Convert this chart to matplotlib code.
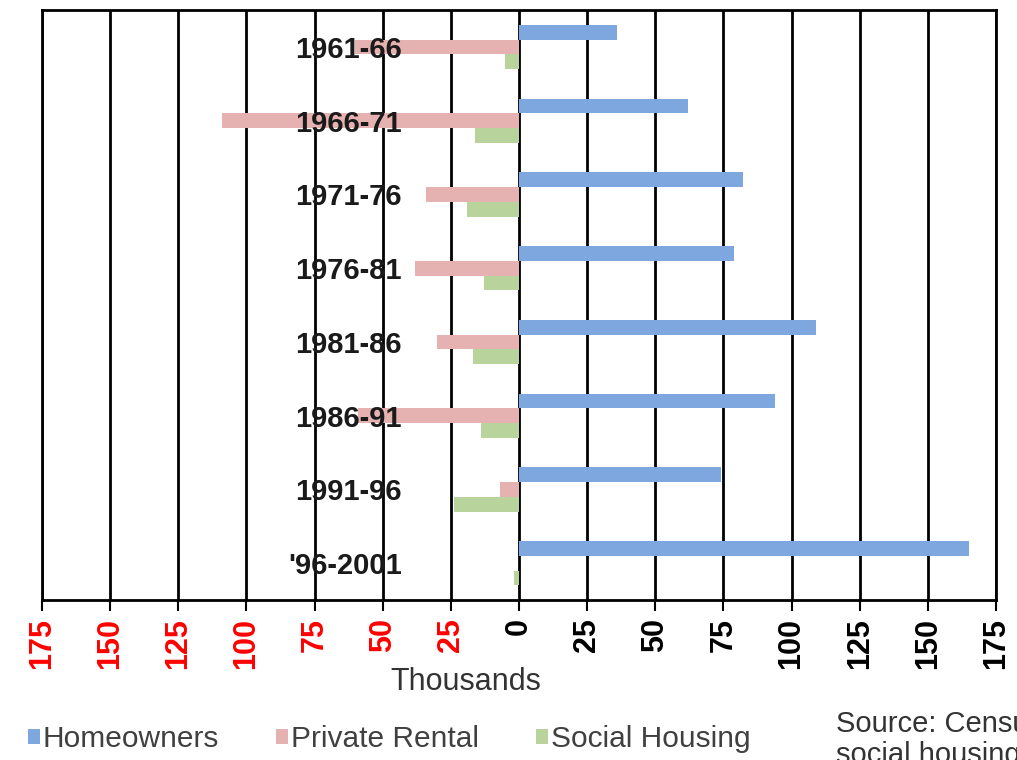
import matplotlib
matplotlib.use("Agg")
import matplotlib.pyplot as plt
import matplotlib.transforms as mtransforms
import numpy as np

plt.rcParams['font.family'] = ['Liberation Sans', 'DejaVu Sans']

periods = ["1961-66", "1966-71", "1971-76", "1976-81", "1981-86", "1986-91", "1991-96", "'96-2001"]
homeowners = [36, 62, 82, 79, 109, 94, 74, 165]
private_rental = [-60, -109, -34, -38, -30, -59, -7, 0]
social_housing = [-5, -16, -19, -13, -17, -14, -24, -2]
series_names = ["Homeowners", "Private Rental", "Social Housing"]
series_colors = ["#7EA7E0", "#E6B1B1", "#B8D39B"]
xticks = list(range(-175, 176, 25))

fig = plt.figure(figsize=(10.17, 7.6), dpi=100)
ax = fig.add_axes([42/1017, 1-600/760, (996-42)/1017, (600-10)/760])

y = np.arange(len(periods))
h = 0.2
for vals, off, col, name in zip([homeowners, private_rental, social_housing],
                                [-h, 0, h], series_colors, series_names):
    ax.barh(y + off, vals, height=h, color=col, label=name, zorder=3, linewidth=0)

ax.set_xlim(-175, 175)
ax.set_ylim(len(periods) - 0.5, -0.5)
ax.set_xticks(xticks)
ax.set_xticklabels([str(abs(v)) for v in xticks], rotation=90, fontsize=22, fontweight='bold')
for lbl, v in zip(ax.get_xticklabels(), xticks):
    lbl.set_color('#FF0000' if v < 0 else 'black')
ax.tick_params(axis='x', length=8, width=1.5, pad=5, direction='out')
ax.set_yticks([])
ax.grid(axis='x', color='black', linewidth=2, zorder=4)
ax.set_axisbelow(False)
for s in ax.spines.values():
    s.set_linewidth(2)
    s.set_color('black')

trans = mtransforms.blended_transform_factory(ax.transData, ax.transData)
for yi, p in zip(y, periods):
    ax.text(-43, yi + 0.04, p, ha='right', va='center', fontsize=21,
            fontweight='bold', color='#1a1a1a', zorder=6, transform=trans)

fig.text(466/1017, 1-682/760, "Thousands", ha='center', va='center', fontsize=22, color='#333333')

handles, labels = ax.get_legend_handles_labels()
fig.legend(handles, labels, loc='center left', bbox_to_anchor=(16/1017, 1-739/760),
           ncol=3, frameon=False, fontsize=21.5, handlelength=0.4, handleheight=0.4,
           handletextpad=0.1, columnspacing=1.9, labelcolor='#404040', borderaxespad=0)

fig.text(836/1017, 1-710/760, "Source: Census\nsocial housing",
         ha='left', va='top', fontsize=21, color='#333333', linespacing=1.15)

fig.savefig("out.png", dpi=100)
